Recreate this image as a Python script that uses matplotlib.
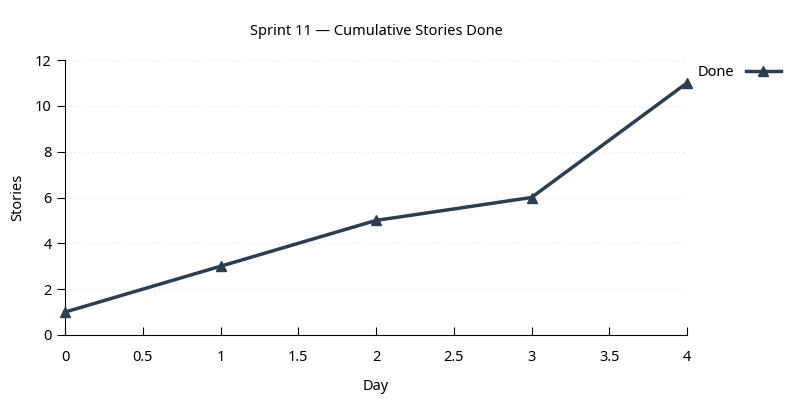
import matplotlib
matplotlib.use("Agg")
import matplotlib.pyplot as plt

days = [0, 1, 2, 3, 4]
done = [1, 3, 5, 6, 11]
xticks = [0, 0.5, 1, 1.5, 2, 2.5, 3, 3.5, 4]
yticks = [0, 2, 4, 6, 8, 10, 12]

plt.rcParams['font.family'] = ['Noto Sans', 'DejaVu Sans']
color = '#2c3e50'
fs = 10.5

fig = plt.figure(figsize=(8, 4), dpi=100)
ax = fig.add_axes([0.08125, 0.1625, 0.7775, 0.6875])
ax.plot(days, done, color=color, lw=2.5, marker='^', ms=6.5, label='Done', clip_on=False, zorder=3)
ax.set_xlim(0, 4)
ax.set_ylim(0, 12)
ax.set_xticks(xticks)
ax.set_xticklabels(['0', '0.5', '1', '1.5', '2', '2.5', '3', '3.5', '4'])
ax.set_yticks(yticks)
for s in ['top', 'right']:
    ax.spines[s].set_visible(False)
ax.tick_params(axis='x', direction='in', length=6, pad=11, labelsize=fs)
ax.tick_params(axis='y', direction='out', length=6, labelsize=fs)
ax.yaxis.grid(True, linestyle=(0, (1, 3)), color='#dddddd', lw=0.8)
ax.set_axisbelow(True)
ax.set_xlabel('Day', fontsize=fs, labelpad=10)
ax.set_ylabel('Stories', fontsize=fs, labelpad=7)
ax.set_title('Sprint 11 — Cumulative Stories Done', fontsize=fs, pad=18)
ax.legend(loc='upper left', bbox_to_anchor=(1.0, 1.02), frameon=False, markerfirst=False,
          fontsize=fs, handlelength=2.4, borderaxespad=0.3)
fig.savefig('out.png', dpi=100)
